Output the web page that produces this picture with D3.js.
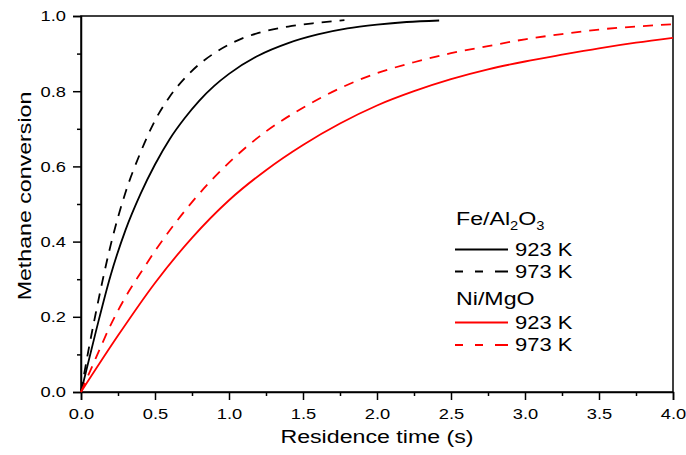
<!DOCTYPE html>
<html>
<head>
<meta charset="utf-8">
<script src="https://cdn.jsdelivr.net/npm/d3@7"></script>
<style>
  html, body { margin: 0; padding: 0; background: #fff; }
  svg { display: block; }
  text { font-family: "Liberation Sans", Arial, sans-serif; fill: #000; }
</style>
</head>
<body>
<svg id="chart" width="686" height="455"></svg>
<script>
// ---- data ----
const xTicks = [0, 0.5, 1.0, 1.5, 2.0, 2.5, 3.0, 3.5, 4.0];
const yTicks = [0, 0.2, 0.4, 0.6, 0.8, 1.0];

const feT923 = [0, 0.1, 0.2, 0.3, 0.4, 0.5, 0.6, 0.7, 0.8, 0.9, 1.0, 1.2, 1.4, 1.6, 1.8, 2.0, 2.2, 2.42];
const feV923 = [0, 0.16, 0.31, 0.43, 0.525, 0.605, 0.673, 0.728, 0.775, 0.814, 0.846, 0.895, 0.928, 0.951, 0.967, 0.977, 0.984, 0.988];

const feT973 = [0, 0.05, 0.1, 0.2, 0.3, 0.4, 0.5, 0.6, 0.7, 0.8, 0.9, 1.0, 1.1, 1.2, 1.4, 1.6, 1.78];
const feV973 = [0, 0.11, 0.21, 0.39, 0.53, 0.635, 0.722, 0.786, 0.834, 0.872, 0.901, 0.924, 0.942, 0.955, 0.972, 0.982, 0.989];

const niT923 = [0, 0.25, 0.5, 0.75, 1.0, 1.25, 1.5, 1.75, 2.0, 2.25, 2.5, 2.75, 3.0, 3.25, 3.5, 3.75, 4.0];
const niV923 = [0, 0.15, 0.29, 0.41, 0.51, 0.59, 0.657, 0.714, 0.762, 0.80, 0.832, 0.858, 0.879, 0.897, 0.914, 0.929, 0.942];

const niT973 = [0, 0.1, 0.2, 0.3, 0.4, 0.5, 0.6, 0.75, 1.0, 1.25, 1.5, 1.75, 2.0, 2.25, 2.5, 2.75, 3.0, 3.25, 3.5, 3.75, 4.0];
const niV973 = [0, 0.09, 0.178, 0.252, 0.315, 0.375, 0.43, 0.505, 0.61, 0.693, 0.756, 0.808, 0.848, 0.877, 0.901, 0.92, 0.938, 0.952, 0.964, 0.972, 0.978];

const seriesNames = ["Fe/Al2O3 923 K", "Fe/Al2O3 973 K", "Ni/MgO 923 K", "Ni/MgO 973 K"];
const xLabel = "Residence time (s)";
const yLabel = "Methane conversion";

// ---- layout ----
const W = 686, H = 455;
const m = { left: 81, right: 13, top: 16, bottom: 63 };
const pw = W - m.left - m.right, ph = H - m.top - m.bottom;
const SX = 1.22; // horizontal stretch of the reference's wide type

const svg = d3.select("#chart");
const g = svg.append("g").attr("transform", `translate(${m.left},${m.top})`);

const x = d3.scaleLinear().domain([0, 4]).range([0, pw]);
const y = d3.scaleLinear().domain([0, 1]).range([ph, 0]);

// minor ticks
const xMinor = d3.range(0.25, 4, 0.5);
const yMinor = d3.range(0.1, 1, 0.2);
g.append("g").attr("transform", `translate(0,${ph})`)
  .call(d3.axisBottom(x).tickValues(xMinor).tickSize(4).tickFormat(""))
  .call(s => s.select(".domain").remove())
  .selectAll("line").attr("stroke-width", 1.5);
g.append("g")
  .call(d3.axisLeft(y).tickValues(yMinor).tickSize(4).tickFormat(""))
  .call(s => s.select(".domain").remove())
  .selectAll("line").attr("stroke-width", 1.5);

// major axes
function stretchTicks(sel) {
  sel.selectAll(".tick text").each(function () {
    const t = d3.select(this);
    const tx = +t.attr("x") || 0, ty = +t.attr("y") || 0;
    t.attr("x", 0).attr("y", 0).attr("transform", `translate(${tx},${ty}) scale(${SX},1)`);
  });
}
const xAxis = g.append("g").attr("transform", `translate(0,${ph})`)
  .call(d3.axisBottom(x).tickValues(xTicks).tickSize(8).tickPadding(8.5).tickFormat(d3.format(".1f")));
const yAxis = g.append("g")
  .call(d3.axisLeft(y).tickValues(yTicks).tickSize(8).tickPadding(7).tickFormat(d3.format(".1f")));
[xAxis, yAxis].forEach(a => {
  a.attr("font-family", null).attr("font-size", null);
  a.selectAll("text").style("font-size", "15px");
  a.selectAll("line").attr("stroke-width", 1.5);
  a.select(".domain").attr("stroke-width", 1.5);
  stretchTicks(a);
});

// frame
g.append("rect").attr("x", 0).attr("y", 0).attr("width", pw).attr("height", ph)
  .attr("fill", "none").attr("stroke", "#000").attr("stroke-width", 1.5);

// curves
const line = d3.line().x(d => x(d[0])).y(d => y(d[1])).curve(d3.curveMonotoneX);
const series = [
  { t: feT923, v: feV923, color: "#000", dash: null },
  { t: feT973, v: feV973, color: "#000", dash: "10,8" },
  { t: niT923, v: niV923, color: "#ff0000", dash: null },
  { t: niT973, v: niV973, color: "#ff0000", dash: "10,8" }
];
series.forEach((s, i) => {
  g.append("path")
    .datum(d3.zip(s.t, s.v))
    .attr("class", "series s" + i)
    .attr("fill", "none")
    .attr("stroke", s.color)
    .attr("stroke-width", 1.8)
    .attr("stroke-dasharray", s.dash)
    .attr("d", line);
});

// axis titles
svg.append("text")
  .attr("transform", `translate(${m.left + pw / 2},443) scale(${SX},1)`)
  .attr("text-anchor", "middle").style("font-size", "19px").text(xLabel);
svg.append("text")
  .attr("transform", `translate(31,196) rotate(-90) scale(${SX},1)`)
  .attr("text-anchor", "middle").style("font-size", "19px").text(yLabel);

// legend
const leg = svg.append("g");
function title(parts, xx, yy) {
  const t = leg.append("text").attr("transform", `translate(${xx},${yy}) scale(${SX},1)`).style("font-size", "19px");
  parts.forEach(p => {
    const ts = t.append("tspan").text(p.s);
    if (p.sub) ts.style("font-size", "12px").attr("dy", 5);
    else if (p.back) ts.attr("dy", -5);
  });
}
title([{ s: "Fe/Al" }, { s: "2", sub: true }, { s: "O", back: true }, { s: "3", sub: true }], 456, 224.5);
title([{ s: "Ni/MgO" }], 456, 304.5);

const legRows = [
  { y: 249.5, s: series[0], label: "923 K" },
  { y: 271.5, s: series[1], label: "973 K" },
  { y: 322.5, s: series[2], label: "923 K" },
  { y: 345, s: series[3], label: "973 K" }
];
legRows.forEach(r => {
  leg.append("line").attr("x1", 455).attr("x2", 508).attr("y1", r.y).attr("y2", r.y)
    .attr("stroke", r.s.color).attr("stroke-width", 1.8)
    .attr("stroke-dasharray", r.s.dash ? "8,12,8,12,13" : null);
  leg.append("text").attr("transform", `translate(515,${r.y + 6}) scale(${SX},1)`)
    .style("font-size", "18px").text(r.label);
});
</script>
</body>
</html>
